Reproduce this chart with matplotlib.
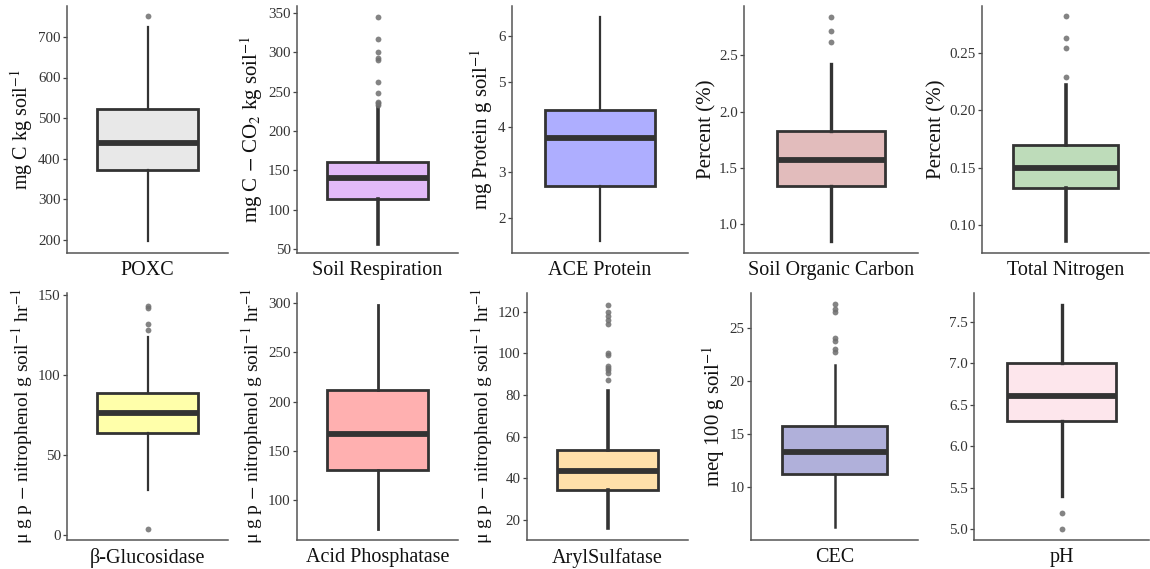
import matplotlib
matplotlib.use("Agg")
import matplotlib.pyplot as plt

plt.rcParams['font.family'] = ['Liberation Serif', 'DejaVu Serif']
plt.rcParams['mathtext.fontset'] = 'stix'

# summary statistics per soil indicator: min whisker, Q1, median, Q3, max whisker, outliers
names = ['POXC', 'Soil Respiration', 'ACE Protein', 'Soil Organic Carbon', 'Total Nitrogen',
         'β-Glucosidase', 'Acid Phosphatase', 'ArylSulfatase', 'CEC', 'pH']
ylabels = [r'mg C kg soil$^{-1}$',
           r'mg C $-$ CO$_2$ kg soil$^{-1}$',
           r'mg Protein g soil$^{-1}$',
           'Percent (%)',
           'Percent (%)',
           r'μ g p $-$ nitrophenol g soil$^{-1}$ hr$^{-1}$',
           r'μ g p $-$ nitrophenol g soil$^{-1}$ hr$^{-1}$',
           r'μ g p $-$ nitrophenol g soil$^{-1}$ hr$^{-1}$',
           r'meq 100 g soil$^{-1}$',
           '']
whislo = [197, 57, 1.5, 0.85, 0.086, 28, 70, 16, 6.2, 5.4]
q1 = [372, 114, 2.70, 1.34, 0.132, 63.5, 130, 34.5, 11.2, 6.3]
med = [440, 140, 3.75, 1.57, 0.150, 76.5, 167, 43.5, 13.3, 6.6]
q3 = [523, 161, 4.37, 1.83, 0.170, 89, 212, 53.5, 15.7, 7.0]
whishi = [724, 231, 6.42, 2.42, 0.222, 124, 298, 82, 21.5, 7.7]
fliers = [[752],
          [233, 236, 237, 248, 263, 290, 293, 300, 317, 345],
          [],
          [2.62, 2.72, 2.84],
          [0.229, 0.254, 0.263, 0.282],
          [4, 128, 132, 142, 143],
          [],
          [87, 90.5, 92, 93, 94, 99, 100, 114, 116, 118, 120, 123],
          [22.7, 23.0, 23.7, 24.0, 26.5, 26.8, 27.2],
          [5.0, 5.2]]
yticks = [[200, 300, 400, 500, 600, 700],
          [50, 100, 150, 200, 250, 300, 350],
          [2, 3, 4, 5, 6],
          [1.0, 1.5, 2.0, 2.5],
          [0.10, 0.15, 0.20, 0.25],
          [0, 50, 100, 150],
          [100, 150, 200, 250, 300],
          [20, 40, 60, 80, 100, 120],
          [10, 15, 20, 25],
          [5.0, 5.5, 6.0, 6.5, 7.0, 7.5]]
tickfmt = ['{:.0f}', '{:.0f}', '{:.0f}', '{:.1f}', '{:.2f}',
           '{:.0f}', '{:.0f}', '{:.0f}', '{:.0f}', '{:.1f}']
ylims = [(168, 776), (45, 359), (1.23, 6.66), (0.74, 2.94), (0.0755, 0.291),
         (-3.1, 151.3), (59.3, 310.5), (10.4, 129), (4.97, 28.27), (4.87, 7.845)]

fills = ['#E8E8E8', '#E2BAF8', '#AEAEFF', '#E2BCBC', '#BEDCBA',
         '#FFFFAA', '#FFB0B0', '#FFE0AA', '#B0B0DA', '#FDE6EC']
whisker_lw = [1.6, 2.6, 1.6, 2.4, 2.6, 1.6, 2.0, 2.6, 1.8, 2.4]
ylabel_size = [14.5, 15, 15, 15, 15, 14, 14, 14, 15, 15]

# axes rectangles in pixels: left, right, top, bottom
W, H = 1150, 569
rects = [(67, 228, 6, 253), (297, 458, 6, 253), (512, 688, 6, 253),
         (744, 918, 6, 253), (982, 1149, 6, 253),
         (67, 228, 293, 540), (297, 458, 293, 540), (527, 688, 293, 540),
         (751, 918, 293, 540), (974, 1149, 293, 540)]

fig = plt.figure(figsize=(W / 100, H / 100), dpi=100)

for i in range(len(names)):
    l, r, t, b = rects[i]
    ax = fig.add_axes([l / W, 1 - b / H, (r - l) / W, (b - t) / H])
    stats = [dict(med=med[i], q1=q1[i], q3=q3[i], whislo=whislo[i],
                  whishi=whishi[i], fliers=fliers[i])]
    ax.bxp(stats, positions=[0.5], widths=0.625, patch_artist=True, showcaps=False,
           boxprops=dict(facecolor=fills[i], edgecolor='#333333', linewidth=2.0),
           medianprops=dict(color='#333333', linewidth=4.2, solid_capstyle='butt'),
           whiskerprops=dict(color='#333333', linewidth=whisker_lw[i]),
           flierprops=dict(marker='o', markersize=4.2, markerfacecolor='#6f6f6f',
                           markeredgecolor='none', alpha=0.85))
    ax.set_xlim(0, 1)
    ax.set_ylim(*ylims[i])
    ax.set_xticks([])
    ax.set_yticks(yticks[i])
    ax.set_yticklabels([tickfmt[i].format(v) for v in yticks[i]])
    ax.tick_params(axis='y', length=3, width=0.9, color='#444444',
                   labelsize=10.8, labelcolor='#333333', pad=1.5)
    for side in ['top', 'right']:
        ax.spines[side].set_visible(False)
    for side in ['left', 'bottom']:
        ax.spines[side].set_color('#555555')
        ax.spines[side].set_linewidth(1.1)
    ax.set_xlabel(names[i], fontsize=14.5, color='#111111', labelpad=6)
    if ylabels[i]:
        ax.set_ylabel(ylabels[i], fontsize=ylabel_size[i], color='#111111', labelpad=2)

fig.savefig('out.png', dpi=100, facecolor='white')
